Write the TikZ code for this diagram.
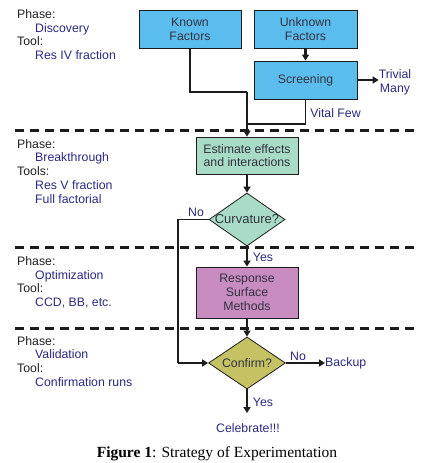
\documentclass[tikz,border=0pt]{standalone}
\usepackage{fontspec}
\setmainfont{Liberation Sans}
\newfontfamily\capfont{Liberation Serif}
\usetikzlibrary{shapes.geometric,arrows.meta,calc}
\definecolor{boxblue}{HTML}{5BBDEE}
\definecolor{boxgreen}{HTML}{A8DCC6}
\definecolor{boxpurple}{HTML}{C88CC0}
\definecolor{boxolive}{HTML}{C4C262}
\definecolor{navy}{HTML}{2B2A80}
\definecolor{boxtext}{HTML}{333340}
\definecolor{ink}{HTML}{1C1C1C}
\definecolor{headtext}{HTML}{222222}
\tikzset{
  box/.style={draw=ink, line width=0.8pt, minimum width=102pt, minimum height=38pt,
    inner sep=0pt, align=center, text=boxtext, font=\fontsize{12.3}{13.7}\selectfont},
  dia/.style={diamond, draw=ink, line width=0.8pt, inner sep=0pt},
  thinline/.style={draw=ink, line width=1.4pt},
  thickline/.style={draw=ink, line width=2.8pt},
  tip/.style={-{Triangle[length=6pt,width=7pt]}},
  lbl/.style={text=navy, inner sep=0pt},
  head/.style={anchor=base west, inner sep=0pt, text=headtext},
  item/.style={anchor=base west, inner sep=0pt, text=navy},
  sepline/.style={draw=ink, line width=3pt, dash pattern=on 9pt off 6pt},
}
\begin{document}
\begin{tikzpicture}[x=1pt,y=-1pt, font=\fontsize{12.3}{13.7}\selectfont]
\useasboundingbox[fill=white] (0,0) rectangle (434,463);

% separators
\coordinate (s1a) at (15,130); \coordinate (s1b) at (418,130);
\coordinate (s2a) at (15,247); \coordinate (s2b) at (418,247);
\coordinate (s3a) at (15,328); \coordinate (s3b) at (418,328);
\draw[sepline] (s1a) -- (s1b);
\draw[sepline] (s2a) -- (s2b);
\draw[sepline] (s3a) -- (s3b);

% left texts
\node[head] (p1) at (17,18.5) {Phase:};
\node[item] (p1a) at (35,32.2) {Discovery};
\node[head] (t1) at (17,45.9) {Tool:};
\node[item] (t1a) at (35,59.6) {Res IV fraction};

\node[head] (p2) at (17,148) {Phase:};
\node[item] (p2a) at (35,161.8) {Breakthrough};
\node[head] (t2) at (17,175.6) {Tools:};
\node[item] (t2a) at (35,189.4) {Res V fraction};
\node[item] (t2b) at (35,203.2) {Full factorial};

\node[head] (p3) at (17,265.5) {Phase:};
\node[item] (p3a) at (35,279.2) {Optimization};
\node[head] (t3) at (17,292.9) {Tool:};
\node[item] (t3a) at (35,306.6) {CCD, BB, etc.};

\node[head] (p4) at (17,345) {Phase:};
\node[item] (p4a) at (35,358.7) {Validation};
\node[head] (t4) at (17,372.4) {Tool:};
\node[item] (t4a) at (35,386.1) {Confirmation runs};

% boxes
\node[box, fill=boxblue] (known) at (190,29) {Known\\Factors};
\node[box, fill=boxblue, minimum width=103pt] (unknown) at (305.5,29) {Unknown\\Factors};
\node[box, fill=boxblue, minimum width=103pt] (screen) at (305.5,80) {Screening};
\node[box, fill=boxgreen, minimum height=37pt] (est) at (247,155.5) {Estimate effects\\and interactions};
\node[dia, fill=boxgreen, minimum width=76pt, minimum height=53pt,
  label={[text=boxtext, font=\fontsize{13}{14}\selectfont]center:Curvature?}] (curv) at (247,219.5) {};
\node[box, fill=boxpurple, minimum height=51pt] (rsm) at (247,292.5) {Response\\Surface\\Methods};
\node[dia, fill=boxolive, minimum width=77pt, minimum height=52pt,
  label={[text=boxtext]center:Confirm?}] (conf) at (247,363) {};

% side labels
\node[lbl, align=center] (trivial) at (395,82.5) {Trivial\\Many};
\node[lbl, anchor=west] (backup) at (325,363) {Backup};
\node[lbl] (vital) at (335.5,113) {Vital Few};
\node[lbl] (no1) at (196,212) {No};
\node[lbl] (yes1) at (263,257.5) {Yes};
\node[lbl] (no2) at (298,356) {No};
\node[lbl] (yes2) at (263,402.5) {Yes};
\node[lbl] (celeb) at (248,428) {Celebrate!!!};

% junctions
\coordinate (j1) at (247,92);
\coordinate (j2) at (247,124);
\coordinate (j3) at (178,363);
\coordinate (celtip) at (247,413);

% connectors
\draw[thinline] (known.south) |- (j1);
\draw[thickline, tip] (j1) -- (est.north);
\draw[thinline] (screen.south) -- (screen.south |- j2);
\draw[thickline] (screen.south |- j2) -- (j2);
\draw[thickline, tip] (unknown.south) -- (screen.north);
\draw[thinline, tip] (screen.east) -- (screen.east -| trivial.west);
\draw[thickline, tip] (est.south) -- (curv.north);
\draw[thinline] (curv.west) -| (j3);
\draw[thickline, tip] (j3) -- (conf.west);
\draw[thickline, tip] (curv.south) -- (rsm.north);
\draw[thickline, tip] (rsm.south) -- (conf.north);
\draw[thinline, tip] (conf.east) -- (backup.west);
\draw[thickline, tip] (conf.south) -- (celtip);

% caption
\node[anchor=base, inner sep=0pt] (cap) at (217,457)
  {\capfont\fontsize{15.5}{18}\selectfont\textbf{Figure 1}: Strategy of Experimentation};
\end{tikzpicture}
\end{document}
